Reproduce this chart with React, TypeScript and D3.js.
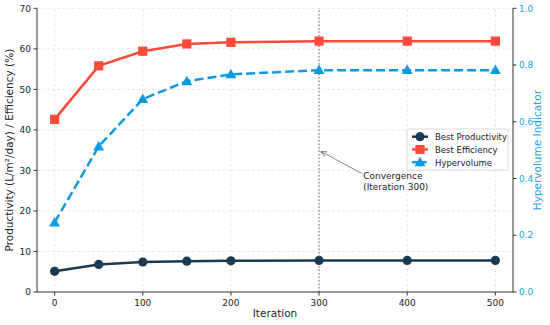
import * as d3 from "d3";

const iterations = [0, 50, 100, 150, 200, 300, 400, 500];
const bestProductivity = [5.1, 6.8, 7.4, 7.6, 7.7, 7.8, 7.8, 7.8];
const bestEfficiency = [42.6, 55.8, 59.4, 61.2, 61.6, 61.9, 61.9, 61.9];
const hypervolume = [0.245, 0.513, 0.68, 0.743, 0.767, 0.782, 0.782, 0.782];

const xTicks = [0, 100, 200, 300, 400, 500];
const leftTicks = [0, 10, 20, 30, 40, 50, 60, 70];
const rightTicks = [0, 0.2, 0.4, 0.6, 0.8, 1.0];

const W = 550;
const H = 325;
const m = { top: 8.3, right: 37, bottom: 33, left: 37 };

const cProd = "#1b3a50";
const cEff = "#fd4a3a";
const cHv = "#0e9ae0";
const cHvAxis = "#22a2e3";
const font = "DejaVu Sans, sans-serif";

export default function App() {
  const x = d3.scaleLinear([-20, 520], [m.left, W - m.right]);
  const yL = d3.scaleLinear([0, 70], [H - m.bottom, m.top]);
  const yR = d3.scaleLinear([0, 1], [H - m.bottom, m.top]);

  const lineL = (vals: number[]) =>
    d3.line<number>((_, i) => x(iterations[i]), (d) => yL(d))(vals) as string;
  const lineR = d3.line<number>((_, i) => x(iterations[i]), (d) => yR(d))(hypervolume) as string;

  const x0 = m.left;
  const x1 = W - m.right;
  const y0 = H - m.bottom;
  const y1 = m.top;

  const tri = d3.symbol(d3.symbolTriangle, 52)() as string;

  const legendX = 407;
  const legendY = 129;
  const legendItems = [
    { label: "Best Productivity", color: cProd, kind: "circle", dash: "" },
    { label: "Best Efficiency", color: cEff, kind: "square", dash: "" },
    { label: "Hypervolume", color: cHv, kind: "tri", dash: "6,2.5" },
  ];

  const marker = (kind: string, color: string, cx: number, cy: number, k: string | number) => {
    if (kind === "circle") return <circle key={k} cx={cx} cy={cy} r={4.6} fill={color} />;
    if (kind === "square")
      return <rect key={k} x={cx - 4.6} y={cy - 4.6} width={9.2} height={9.2} fill={color} />;
    return <path key={k} d={tri} transform={`translate(${cx},${cy + 0.8})`} fill={color} />;
  };

  // annotation: arrow points at (302, 34.7), text at (350, 27.9)
  const ax = x(302), ay = yL(34.7);
  const tx = x(350), ty = yL(27.9);
  const sx = tx - 1.5, sy = ty - 5.5;
  const ang = (Math.atan2(ay - sy, ax - sx) * 180) / Math.PI;

  return (
    <svg width={W} height={H} style={{ position: "absolute", left: 0, top: 0, background: "#fff" }} fontFamily={font}>
      {/* grid */}
      <g stroke="#e3e3e3" strokeWidth={0.8} strokeDasharray="3,2">
        {xTicks.map((t) => (
          <line key={"gx" + t} x1={x(t)} x2={x(t)} y1={y0} y2={y1} />
        ))}
        {leftTicks.map((t) => (
          <line key={"gy" + t} x1={x0} x2={x1} y1={yL(t)} y2={yL(t)} />
        ))}
      </g>

      {/* convergence marker */}
      <line x1={x(300)} x2={x(300)} y1={y0} y2={y1} stroke="#888" strokeWidth={1.3} strokeDasharray="1.5,2" />

      {/* series */}
      <path d={lineL(bestProductivity)} fill="none" stroke={cProd} strokeWidth={2.5} />
      {bestProductivity.map((d, i) => marker("circle", cProd, x(iterations[i]), yL(d), "p" + i))}
      <path d={lineL(bestEfficiency)} fill="none" stroke={cEff} strokeWidth={2.5} />
      {bestEfficiency.map((d, i) => marker("square", cEff, x(iterations[i]), yL(d), "e" + i))}
      <path d={lineR} fill="none" stroke={cHv} strokeWidth={2.5} strokeDasharray="9,4" />
      {hypervolume.map((d, i) => marker("tri", cHv, x(iterations[i]), yR(d), "h" + i))}

      {/* annotation */}
      <line x1={sx} y1={sy} x2={ax} y2={ay} stroke="#777" strokeWidth={0.9} />
      <path
        d="M0,0 L-6,-2.5 M0,0 L-6,2.5"
        stroke="#777"
        strokeWidth={0.9}
        fill="none"
        transform={`translate(${ax},${ay}) rotate(${ang})`}
      />
      <text x={tx} y={ty} fontSize={9} fill="#222">
        <tspan x={tx} dy={0}>Convergence</tspan>
        <tspan x={tx} dy={11.5}>(Iteration 300)</tspan>
      </text>

      {/* spines */}
      <g stroke="#333" strokeWidth={1} fill="none">
        <line x1={x0} x2={x0} y1={y1} y2={y0} />
        <line x1={x0} x2={x1} y1={y0} y2={y0} />
        <line x1={x1} x2={x1} y1={y1} y2={y0} />
      </g>

      {/* x ticks */}
      {xTicks.map((t) => (
        <g key={"xt" + t}>
          <line x1={x(t)} x2={x(t)} y1={y0} y2={y0 + 3.5} stroke="#333" />
          <text x={x(t)} y={y0 + 14} fontSize={9} textAnchor="middle" fill="#222">
            {t}
          </text>
        </g>
      ))}
      {/* left ticks */}
      {leftTicks.map((t) => (
        <g key={"yl" + t}>
          <line x1={x0 - 3.5} x2={x0} y1={yL(t)} y2={yL(t)} stroke="#333" />
          <text x={x0 - 6} y={yL(t) + 3.2} fontSize={9} textAnchor="end" fill="#222">
            {t}
          </text>
        </g>
      ))}
      {/* right ticks */}
      {rightTicks.map((t) => (
        <g key={"yr" + t}>
          <line x1={x1} x2={x1 + 3.5} y1={yR(t)} y2={yR(t)} stroke="#333" />
          <text x={x1 + 6} y={yR(t) + 3.2} fontSize={9} textAnchor="start" fill={cHvAxis}>
            {t.toFixed(1)}
          </text>
        </g>
      ))}

      {/* axis labels */}
      <text x={275} y={317} fontSize={10.5} textAnchor="middle" fill="#222">
        Iteration
      </text>
      <text transform={`translate(13,${(y0 + y1) / 2}) rotate(-90)`} fontSize={10.5} textAnchor="middle" fill="#222">
        Productivity (L/m²/day) / Efficiency (%)
      </text>
      <text transform={`translate(541,${(y0 + y1) / 2}) rotate(-90)`} fontSize={10.5} textAnchor="middle" fill={cHvAxis}>
        Hypervolume Indicator
      </text>

      {/* legend */}
      <rect x={legendX} y={legendY} width={101} height={41} rx={2} fill="#fff" fillOpacity={0.85} stroke="#d0d0d0" strokeWidth={0.8} />
      {legendItems.map((it, i) => {
        const ly = legendY + 7.7 + i * 12.8;
        return (
          <g key={"lg" + i}>
            <line x1={legendX + 5} x2={legendX + 21} y1={ly} y2={ly} stroke={it.color} strokeWidth={2.5} strokeDasharray={it.dash} />
            {marker(it.kind, it.color, legendX + 13, ly, "lm" + i)}
            <text x={legendX + 28} y={ly + 3.2} fontSize={8.5} fill="#222">
              {it.label}
            </text>
          </g>
        );
      })}
    </svg>
  );
}
